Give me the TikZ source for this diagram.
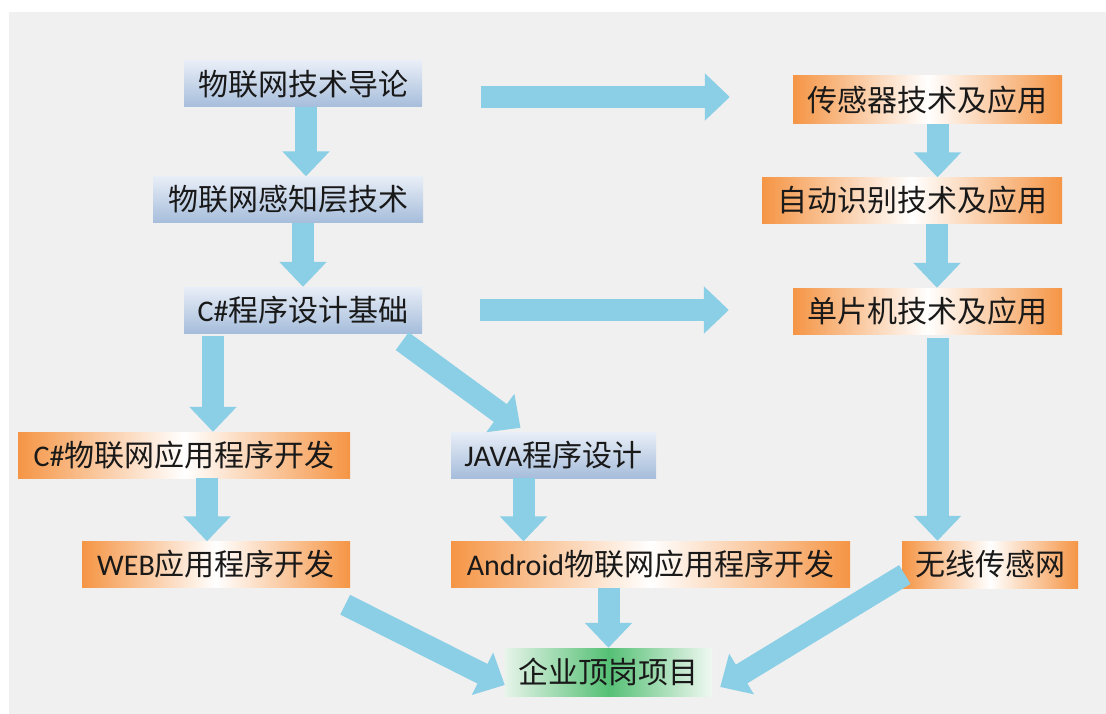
\documentclass[tikz,border=0pt]{standalone}
\usepackage{fontspec}
\setmainfont{Noto Sans CJK SC}
\newfontfamily\latinfont{Carlito}
\usetikzlibrary{arrows.meta, positioning}

\definecolor{bgGray}{HTML}{F0F0F0}
\definecolor{blueTop}{HTML}{E8EEF7}
\definecolor{blueBot}{HTML}{A6BDDB}
\definecolor{orangeEdge}{HTML}{F59545}
\definecolor{greenMid}{HTML}{55C075}
\definecolor{greenEdge}{HTML}{E6F4E9}
\definecolor{arrowBlue}{HTML}{8ACFE6}

\begin{document}
\begin{tikzpicture}[
  x=1pt, y=-1pt,
  box/.style={minimum height=46pt, inner sep=0pt, font=\fontsize{30}{34}\selectfont, text=black!90},
  bluebox/.style={box, top color=blueTop, bottom color=blueBot},
  orangebox/.style={box, left color=orangeEdge, right color=orangeEdge, middle color=white},
  greenbox/.style={box, left color=greenEdge, right color=greenEdge!60!white, middle color=greenMid},
  arrow/.style={-{Triangle[width=46pt, length=25pt]}, line width=22pt, draw=arrowBlue},
]
  \useasboundingbox[fill=white] (0,0) rectangle (1106,714);
  \fill[bgGray] (9,12) rectangle (1106,714);

  % left column
  \node[bluebox, minimum width=238pt] (intro) at (303,84) {物联网技术导论};
  \node[bluebox, minimum width=270pt] (perc) at (288,199.5) {物联网感知层技术};
  \node[bluebox, minimum width=238pt] (cs) at (303,310) {{\latinfont C\#}程序设计基础};
  \node[orangebox, minimum width=332pt] (csiot) at (184,455) {{\latinfont C\#}物联网应用程序开发};
  \node[orangebox, minimum width=268pt] (web) at (216,564.5) {{\latinfont WEB}应用程序开发};

  % middle column
  \node[bluebox, minimum width=205pt] (java) at (553.5,455) {{\latinfont JAVA}程序设计};
  \node[orangebox, minimum width=399pt] (android) at (650.5,564.5) {{\latinfont Android}物联网应用程序开发};
  \node[greenbox, minimum width=207pt, minimum height=48pt] (job) at (608.5,672) {企业顶岗项目};

  % right column
  \node[orangebox, minimum width=269pt, minimum height=48pt] (sensor) at (927.5,100) {传感器技术及应用};
  \node[orangebox, minimum width=300pt] (autoid) at (912,200.5) {自动识别技术及应用};
  \node[orangebox, minimum width=269pt] (mcu) at (927.5,311) {单片机技术及应用};
  \node[orangebox, minimum width=176pt, minimum height=47pt] (wsn) at (990,564.5) {无线传感网};

  % arrows
  \draw[arrow] ([xshift=3pt]intro.south) -- ([xshift=3pt]intro.south |- perc.north);
  \draw[arrow] (cs.north |- perc.south) -- (cs.north);
  \draw[arrow] ([xshift=59pt,yshift=-13pt]intro.east) -- ([xshift=-63pt,yshift=-13pt]intro.east -| sensor.west);
  \draw[arrow] ([xshift=58pt]cs.east) -- ([xshift=-64pt]cs.east -| mcu.west);
  \draw[arrow] ([xshift=10pt]sensor.south) -- ([xshift=10pt]sensor.south |- autoid.north);
  \draw[arrow] ([xshift=25pt]autoid.south) -- ([xshift=25pt]autoid.south |- mcu.north);
  \draw[arrow] ([xshift=10pt,yshift=-4pt]mcu.south) -- ([xshift=10pt]mcu.south |- wsn.north);
  \draw[arrow] ([xshift=-90pt,yshift=-3pt]cs.south) -- ([xshift=-90pt]cs.south |- csiot.north);
  \draw[arrow] ([xshift=-20pt,yshift=-8pt]cs.south east) -- ([xshift=-33pt,yshift=4pt]java.north);
  \draw[arrow] ([xshift=23pt]csiot.south) -- ([xshift=23pt]csiot.south |- web.north);
  \draw[arrow] ([xshift=-30pt]java.south) -- ([xshift=-30pt]java.south |- android.north);
  \draw[arrow] (job.north |- android.south) -- (job.north);
  \draw[arrow] ([xshift=-5pt,yshift=-17pt]web.south east) -- ([yshift=-13pt]job.west);
  \draw[arrow] ([xshift=3pt,yshift=-10pt]wsn.west) -- ([xshift=8pt,yshift=-15pt]job.east);
\end{tikzpicture}
\end{document}
